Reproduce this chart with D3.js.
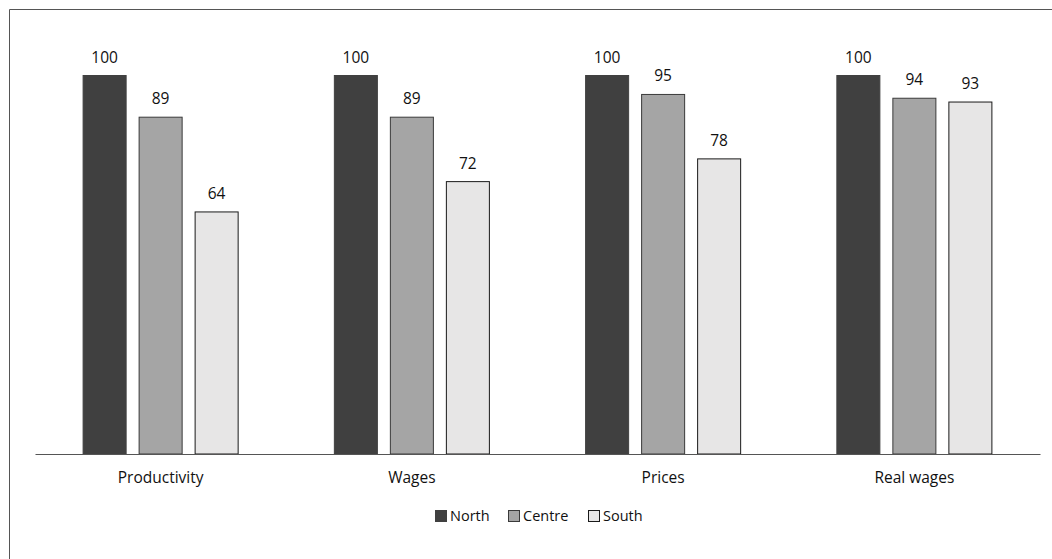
<!DOCTYPE html>
<html>
<head>
<meta charset="utf-8">
<script src="https://cdn.jsdelivr.net/npm/d3@7"></script>
<style>
  html, body { margin: 0; padding: 0; background: #fff; }
  svg { display: block; font-family: "Open Sans", Lato, sans-serif; }
</style>
</head>
<body>
<svg id="chart" width="1052" height="559"></svg>
<script>
// Relative indices by region (North = 100)
const categories = ["Productivity", "Wages", "Prices", "Real wages"];
const regions = ["North", "Centre", "South"];
const north = [100, 100, 100, 100];
const centre = [89, 89, 95, 94];
const south = [64, 72, 78, 93];

const seriesValues = [north, centre, south];
const fills = ["#404040", "#a5a5a5", "#e7e6e6"];
const strokes = ["#404040", "#3a3a3a", "#1a1a1a"];
const fontFamily = "'Open Sans', Lato, sans-serif";

const svg = d3.select("#chart");

// outer frame (left and top edges visible)
svg.append("path")
  .attr("d", "M9.5,559 V9.5 H1052")
  .attr("fill", "none")
  .attr("stroke", "#555")
  .attr("stroke-width", 1);

const plot = { left: 35, right: 1040, top: 75, bottom: 454 };

const x0 = d3.scaleBand()
  .domain(categories)
  .range([plot.left, plot.right])
  .paddingInner(0)
  .paddingOuter(0);

const x1 = d3.scaleBand()
  .domain(regions)
  .range([0, x0.bandwidth()])
  .paddingInner(0.214)
  .paddingOuter(0.85);

const y = d3.scaleLinear()
  .domain([0, 100])
  .range([plot.bottom, plot.top]);

const rows = [];
categories.forEach((c, i) => {
  regions.forEach((r, j) => {
    rows.push({ cat: c, region: r, j, value: seriesValues[j][i] });
  });
});

const g = svg.append("g");

g.selectAll("rect.bar")
  .data(rows)
  .join("rect")
  .attr("class", "bar")
  .attr("x", d => x0(d.cat) + x1(d.region) + 0.5)
  .attr("y", d => y(d.value) + 0.5)
  .attr("width", x1.bandwidth() - 1)
  .attr("height", d => plot.bottom - y(d.value) - 0.5)
  .attr("fill", d => fills[d.j])
  .attr("stroke", d => strokes[d.j])
  .attr("stroke-width", 1);

g.selectAll("text.val")
  .data(rows)
  .join("text")
  .attr("class", "val")
  .attr("x", d => x0(d.cat) + x1(d.region) + x1.bandwidth() / 2)
  .attr("y", d => y(d.value) - 12.5)
  .attr("text-anchor", "middle")
  .attr("font-size", 15.5)
  .attr("fill", "#111")
  .text(d => d.value);

// category axis
const xAxis = d3.axisBottom(x0).tickSize(0).tickPadding(18);
const ax = svg.append("g")
  .attr("transform", `translate(0,${plot.bottom})`)
  .call(xAxis);
ax.select(".domain").attr("stroke", "#555").attr("stroke-width", 1.2);
ax.selectAll("text").attr("font-size", 15.5).attr("fill", "#111")
  .attr("font-family", fontFamily);

// legend
const legendX = [435, 508, 588];
const legend = svg.append("g").attr("transform", "translate(0,516)");
regions.forEach((r, j) => {
  legend.append("rect")
    .attr("x", legendX[j] + 0.5)
    .attr("y", -5.5)
    .attr("width", 11)
    .attr("height", 11)
    .attr("fill", fills[j])
    .attr("stroke", strokes[j]);
  legend.append("text")
    .attr("x", legendX[j] + 15)
    .attr("y", 4.5)
    .attr("font-size", 14.5)
    .attr("fill", "#111")
    .text(r);
});
</script>
</body>
</html>
